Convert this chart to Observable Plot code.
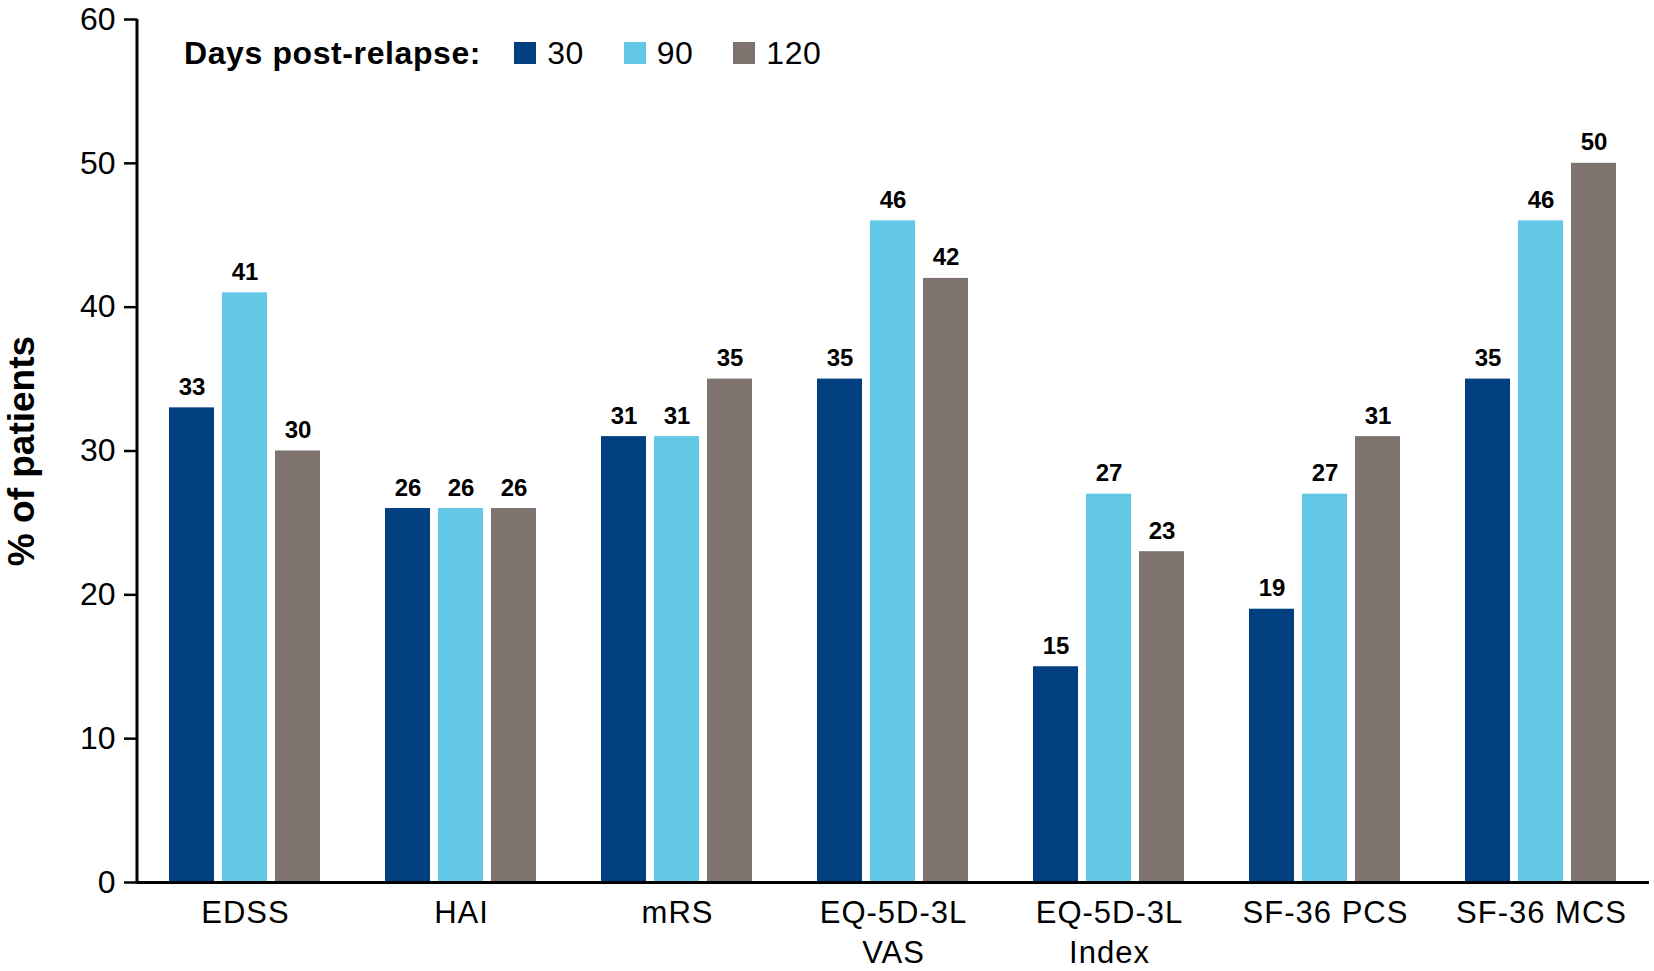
<!DOCTYPE html>
<html>
<head>
<meta charset="utf-8">
<script src="https://cdn.jsdelivr.net/npm/d3@7"></script>
<script src="https://cdn.jsdelivr.net/npm/@observablehq/plot@0.6"></script>
<style>
  body { margin: 0; background: #fff; font-family: "Liberation Sans", Arial, sans-serif; }
  #wrap { position: relative; width: 1654px; height: 971px; }
  #legend { position: absolute; left: 184px; top: 37px; display: flex; align-items: center; height: 32px; }
  #legend .title { font-weight: bold; font-size: 32px; letter-spacing: 0.6px; margin-right: 33px; }
  #legend .sw { width: 22px; height: 22px; margin-right: 11px; }
  #legend .lab { font-size: 32px; margin-right: 40px; letter-spacing: 0.5px; }
  svg [aria-label="y-axis label"] text, svg [aria-label="y-axis label"] { font-weight: bold; font-size: 37px; }
  svg [aria-label="fx-axis tick label"] text { letter-spacing: 1px; }
</style>
</head>
<body>
<div id="wrap">
  <div id="chart"></div>
  <div id="legend"></div>
</div>
<script>
const categories = ["EDSS", "HAI", "mRS", "EQ-5D-3L VAS", "EQ-5D-3L Index", "SF-36 PCS", "SF-36 MCS"];
const categoryLabels = ["EDSS", "HAI", "mRS", "EQ-5D-3L\nVAS", "EQ-5D-3L\nIndex", "SF-36 PCS", "SF-36 MCS"];
const days = ["30", "90", "120"];
const day30 = [33, 26, 31, 35, 15, 19, 35];
const day90 = [41, 26, 31, 46, 27, 27, 46];
const day120 = [30, 26, 35, 42, 23, 31, 50];
const colors = ["#023f80", "#62c8e5", "#7e736e"];
const yTicks = [0, 10, 20, 30, 40, 50, 60];
const legendTitle = "Days post-relapse:";
const yLabel = "% of patients";

const series = [day30, day90, day120];
const rows = [];
categories.forEach((c, i) => {
  days.forEach((d, j) => rows.push({category: c, day: d, value: series[j][i]}));
});

const plot = Plot.plot({
  width: 1654,
  height: 971,
  marginLeft: 137,
  marginRight: 5,
  marginTop: 19,
  marginBottom: 89,
  style: {fontFamily: "'Liberation Sans', Arial, sans-serif", fontSize: "32px", color: "#000", background: "transparent", overflow: "visible"},
  fx: {domain: categories, padding: 0, label: null},
  x: {domain: days, paddingInner: 0.15, paddingOuter: 0.61, axis: null},
  y: {domain: [0, 60], ticks: yTicks},
  color: {domain: days, range: colors},
  marks: [
    Plot.barY(rows, {fx: "category", x: "day", y: "value", fill: "day"}),
    Plot.text(rows, {fx: "category", x: "day", y: "value", text: d => String(d.value), dy: -13, lineAnchor: "bottom", fontWeight: "bold", fontSize: 24, fill: "#000"}),
    Plot.ruleY([0], {stroke: "#000", strokeWidth: 3}),
    Plot.axisY({ticks: yTicks, tickSize: 13, tickPadding: 9, strokeWidth: 2.5, label: yLabel, labelAnchor: "center", labelArrow: "none", labelOffset: 130, fontSize: 32}),
    Plot.axisFx({anchor: "bottom", tickSize: 0, tickPadding: 13, lineHeight: 1.27, fontSize: 31, label: null, tickFormat: d => categoryLabels[categories.indexOf(d)]})
  ]
});

const fxs = plot.scale("fx");
const ys = plot.scale("y");
d3.select(plot).append("line")
  .attr("x1", fxs.range[0]).attr("x2", fxs.range[0])
  .attr("y1", ys.range[0] + 1.5).attr("y2", ys.range[1])
  .attr("stroke", "#000").attr("stroke-width", 3);

document.getElementById("chart").appendChild(plot);

const legend = d3.select("#legend");
legend.append("span").attr("class", "title").text(legendTitle);
days.forEach((d, i) => {
  legend.append("span").attr("class", "sw").style("background", colors[i]);
  legend.append("span").attr("class", "lab").text(d);
});
</script>
</body>
</html>
